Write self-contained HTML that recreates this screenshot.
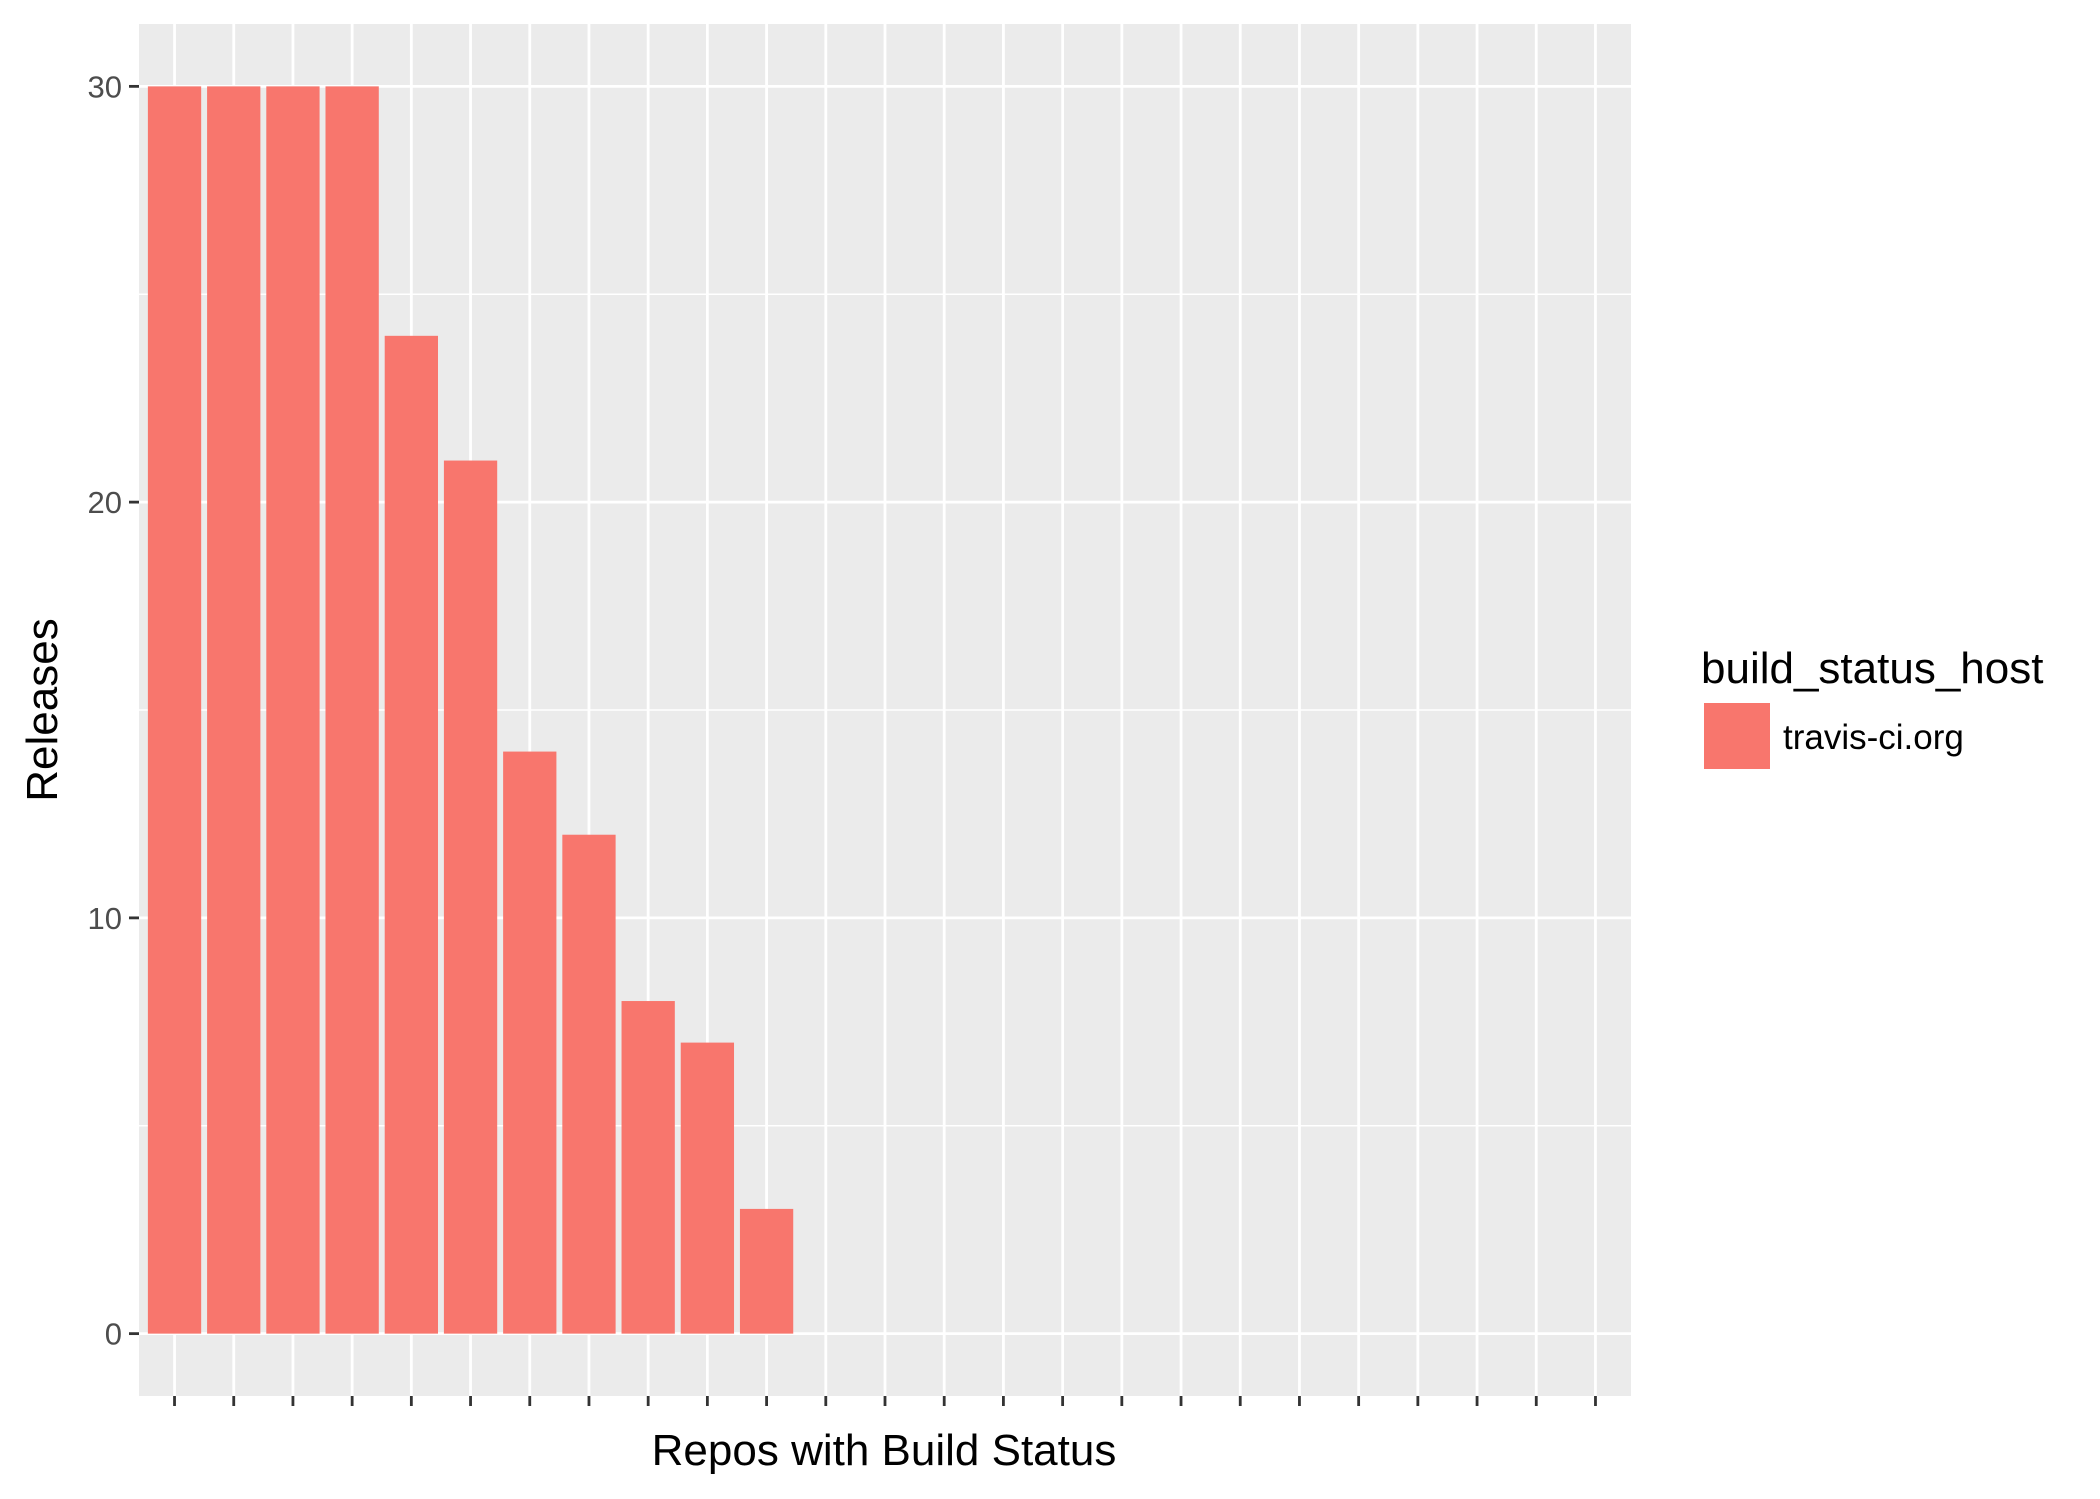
<!DOCTYPE html>
<html><head><meta charset="utf-8"><style>
html,body{margin:0;padding:0;background:#fff}
svg{display:block}
text{font-family:"Liberation Sans",Arial,sans-serif}
</style></head><body>
<svg id="chart" width="2100" height="1499" viewBox="0 0 2100 1499" xmlns="http://www.w3.org/2000/svg">
<rect x="0" y="0" width="2100" height="1499" fill="#fff"/>
<rect id="panel" x="139" y="24" width="1492" height="1372" fill="#EBEBEB"/>
<g id="grid"></g>
<g id="bars"></g>
<g id="axes"></g>
<text x="884" y="1465" font-size="44" text-anchor="middle" fill="#000">Repos with Build Status</text>
<text x="0" y="0" font-size="44" text-anchor="middle" fill="#000" transform="translate(57,710) rotate(-90)">Releases</text>
<g>
<text x="1701" y="683" font-size="44" fill="#000">build_status_host</text>
<rect x="1704" y="703" width="66" height="66" fill="#F8766D"/>
<text x="1783" y="749" font-size="35" fill="#000">travis-ci.org</text>
</g>
</svg>
<script>
const categories = ["r1","r2","r3","r4","r5","r6","r7","r8","r9","r10","r11","r12","r13","r14","r15","r16","r17","r18","r19","r20","r21","r22","r23","r24","r25"];
const releases = [30,30,30,30,24,21,14,12,8,7,3,0,0,0,0,0,0,0,0,0,0,0,0,0,0];
const yTicks = [0,10,20,30];
const yMinor = [5,15,25];

const NS="http://www.w3.org/2000/svg";
const L=139,R=1631,T=24,B=1396;
const yMin=-1.5,yMax=31.5;
const n=categories.length;
const step=(R-L)/(n-1+1.2);
function xPos(i){return L+step*(0.6+i);}
function yPos(v){return B-(v-yMin)/(yMax-yMin)*(B-T);}
function mk(tag,attrs,parent){const e=document.createElementNS(NS,tag);for(const k in attrs)e.setAttribute(k,attrs[k]);parent.appendChild(e);return e;}
const grid=document.getElementById('grid'),bars=document.getElementById('bars'),axes=document.getElementById('axes');
yMinor.forEach(v=>{const l=mk('line',{x1:L,x2:R,y1:yPos(v),y2:yPos(v),stroke:'#fff','stroke-width':1.4},grid);

});
yTicks.forEach(v=>{const l=mk('line',{x1:L,x2:R,y1:yPos(v),y2:yPos(v),stroke:'#fff','stroke-width':2.8},grid);


const t=mk('line',{x1:L-10,x2:L,y1:yPos(v),y2:yPos(v),stroke:'#333','stroke-width':2.8},axes);


const tx=mk('text',{x:L-17,y:yPos(v)+11,'font-size':31,'text-anchor':'end',fill:'#4D4D4D'},axes);
tx.textContent=v;

});
categories.forEach((c,i)=>{const x=xPos(i);
const l=mk('line',{x1:x,x2:x,y1:T,y2:B,stroke:'#fff','stroke-width':2.8},grid);


const t=mk('line',{x1:x,x2:x,y1:B,y2:B+10,stroke:'#333','stroke-width':2.8},axes);


const v=releases[i];
if(v>0){const w=step*0.9;
const b=mk('rect',{x:x-w/2,y:yPos(v),width:w,height:yPos(0)-yPos(v),fill:'#F8766D'},bars);

}});
</script>
</body></html>
